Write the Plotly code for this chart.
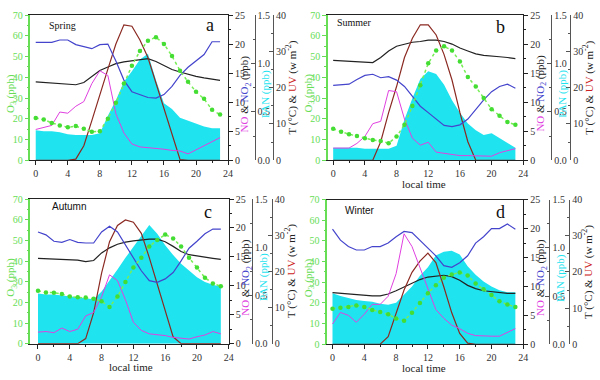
import plotly.graph_objects as go

hours = list(range(24))
seasons = ["Spring", "Summer", "Autumn", "Winter"]
letters = ["a", "b", "c", "d"]

# O3 (ppb)
o3_spring = [20.4, 19.6, 18.0, 16.8, 15.9, 16.5, 15.2, 13.7, 14.0, 20.0, 27.7, 37.0, 45.6, 52.6, 57.6, 59.3, 56.0, 50.2, 43.2, 37.8, 33.0, 29.6, 24.3, 22.0]
o3_summer = [15.2, 13.7, 12.6, 11.7, 10.6, 9.8, 9.3, 8.2, 11.4, 17.1, 26.1, 36.2, 46.7, 52.9, 54.9, 52.9, 47.6, 40.1, 35.5, 30.0, 24.6, 21.5, 18.4, 17.1]
o3_autumn = [25.6, 24.8, 24.7, 24.0, 22.8, 22.5, 22.3, 21.7, 20.5, 17.8, 22.8, 29.8, 36.9, 41.6, 47.0, 50.2, 52.8, 50.9, 47.0, 41.6, 36.9, 31.9, 29.1, 27.8]
o3_winter = [17.2, 17.7, 18.1, 18.8, 18.1, 16.6, 15.6, 14.5, 12.5, 11.4, 15.3, 20.0, 24.7, 28.6, 32.2, 33.8, 34.8, 33.3, 29.4, 26.6, 23.9, 20.8, 19.2, 18.1]

# NO2 (ppb)
no2_spring = [20.3, 20.3, 20.3, 20.7, 20.7, 19.9, 19.6, 19.2, 19.9, 20.0, 17.1, 13.8, 11.8, 11.3, 10.8, 10.7, 11.3, 12.7, 14.6, 16.0, 17.1, 18.2, 20.4, 20.4]
no2_summer = [12.9, 13.0, 13.1, 13.9, 14.6, 14.8, 14.2, 14.4, 13.8, 12.7, 11.0, 9.3, 8.2, 7.1, 6.0, 5.8, 6.1, 7.1, 8.8, 10.4, 11.8, 12.7, 13.1, 12.4]
no2_autumn = [19.3, 18.8, 17.7, 17.5, 18.0, 17.5, 17.4, 17.4, 19.3, 20.3, 19.3, 17.1, 14.9, 12.6, 10.9, 10.6, 11.2, 12.3, 14.3, 16.5, 17.7, 19.0, 19.8, 19.8]
no2_winter = [19.9, 18.0, 16.9, 16.3, 16.3, 16.9, 16.9, 17.5, 18.6, 19.5, 19.3, 18.0, 16.6, 15.3, 13.6, 13.3, 14.1, 15.3, 17.5, 18.6, 20.0, 20.0, 20.8, 19.9]

# NO (ppb)
no_spring = [5.3, 5.6, 6.0, 8.3, 8.1, 9.3, 10.1, 13.2, 15.4, 14.6, 8.0, 4.7, 2.8, 2.3, 2.2, 2.1, 1.9, 1.7, 1.6, 1.1, 1.8, 2.6, 3.2, 3.9]
no_summer = [2.1, 2.1, 2.1, 2.9, 4.1, 6.3, 6.7, 12.0, 11.8, 7.1, 3.8, 2.6, 3.1, 1.4, 1.2, 0.9, 0.8, 0.8, 0.8, 0.7, 0.7, 1.3, 1.6, 2.0]
no_autumn = [2.0, 2.1, 1.9, 2.7, 2.1, 2.5, 4.8, 5.4, 8.1, 11.9, 10.9, 7.6, 3.7, 2.3, 1.7, 1.6, 1.4, 1.1, 0.9, 0.8, 1.2, 1.5, 2.1, 1.7]
no_winter = [3.5, 5.5, 5.0, 3.8, 5.2, 6.9, 6.9, 8.3, 12.2, 19.1, 16.9, 13.3, 9.4, 6.0, 4.5, 3.3, 2.7, 1.9, 1.5, 1.4, 1.4, 1.4, 2.1, 2.7]

# PAN (ppb)
pan_spring = [0.31, 0.30, 0.30, 0.29, 0.27, 0.26, 0.26, 0.26, 0.28, 0.46, 0.62, 0.81, 0.92, 1.04, 1.10, 0.83, 0.59, 0.53, 0.44, 0.41, 0.38, 0.35, 0.33, 0.33]
pan_summer = [0.13, 0.13, 0.13, 0.13, 0.12, 0.12, 0.12, 0.12, 0.15, 0.42, 0.64, 0.84, 0.92, 0.89, 0.78, 0.62, 0.49, 0.38, 0.31, 0.26, 0.28, 0.23, 0.18, 0.13]
pan_autumn = [0.52, 0.51, 0.51, 0.50, 0.49, 0.48, 0.47, 0.46, 0.54, 0.65, 0.77, 0.89, 1.00, 1.11, 1.23, 1.14, 1.02, 0.92, 0.83, 0.76, 0.69, 0.64, 0.61, 0.59]
pan_winter = [0.53, 0.50, 0.48, 0.46, 0.45, 0.44, 0.42, 0.41, 0.43, 0.51, 0.60, 0.71, 0.80, 0.92, 0.96, 0.97, 0.93, 0.81, 0.72, 0.65, 0.60, 0.56, 0.54, 0.54]

# T (degC)
t_spring = [21.6, 21.4, 21.2, 21.0, 20.9, 20.8, 21.4, 23.1, 24.7, 25.7, 26.6, 27.1, 27.4, 27.9, 28.0, 27.2, 26.1, 25.0, 24.3, 23.6, 23.1, 22.7, 22.3, 22.0]
t_summer = [27.5, 27.4, 27.2, 27.0, 26.9, 26.9, 28.3, 30.1, 31.4, 32.0, 32.5, 32.7, 33.1, 33.1, 32.7, 32.0, 30.9, 30.1, 29.3, 28.9, 28.6, 28.5, 28.3, 28.0]
t_autumn = [23.6, 23.5, 23.4, 23.3, 23.2, 23.1, 22.7, 23.0, 25.1, 26.5, 27.5, 28.1, 28.4, 28.7, 28.9, 28.9, 28.2, 26.9, 25.5, 24.6, 24.2, 23.9, 23.6, 23.3]
t_winter = [14.3, 14.1, 13.9, 13.8, 13.6, 13.4, 13.4, 13.9, 14.8, 15.9, 17.0, 17.9, 18.6, 18.9, 19.1, 18.7, 17.7, 16.3, 15.4, 14.8, 14.5, 14.3, 14.1, 14.1]

# UV (W m-2)
uv_spring = [0, 0, 0, 0, 0, 0.3, 4.0, 10.9, 17.7, 25.1, 32.0, 37.3, 36.9, 33.1, 28.3, 21.3, 14.1, 7.0, 0.2, 0, 0, 0, 0, 0]
uv_summer = [0, 0, 0, 0, 0, 0, 5.1, 13.1, 20.3, 28.3, 33.6, 37.3, 37.3, 34.5, 29.1, 22.1, 13.1, 5.1, 0, 0, 0, 0, 0, 0]
uv_autumn = [0, 0, 0, 0, 0, 0, 1.4, 8.6, 19.5, 28.2, 32.7, 34.2, 33.6, 30.5, 23.8, 16.6, 9.0, 1.9, 0, 0, 0, 0, 0, 0]
uv_winter = [0, 0, 0, 0, 0, 0, 0, 2.1, 8.3, 15.0, 19.9, 23.0, 25.2, 22.6, 15.9, 8.7, 3.0, 0.3, 0, 0, 0, 0, 0, 0]

o3_all = [o3_spring, o3_summer, o3_autumn, o3_winter]
no2_all = [no2_spring, no2_summer, no2_autumn, no2_winter]
no_all = [no_spring, no_summer, no_autumn, no_winter]
pan_all = [pan_spring, pan_summer, pan_autumn, pan_winter]
t_all = [t_spring, t_summer, t_autumn, t_winter]
uv_all = [uv_spring, uv_summer, uv_autumn, uv_winter]

# panel geometry in pixels: left, right, top, bottom, PAN axis x, T axis x, x-range start
geom = [
    dict(l=30.7, r=230.0, t=9.3, b=159.3, pan=256.7, tx=275.3, x0=-0.66),
    dict(l=330.7, r=527.7, t=9.3, b=159.3, pan=556.0, tx=575.0, x0=-0.66),
    dict(l=30.7, r=230.7, t=199.3, b=348.7, pan=254.0, tx=274.0, x0=-0.95),
    dict(l=330.0, r=527.7, t=200.0, b=349.3, pan=554.0, tx=574.0, x0=-0.66),
]

W, H = 600, 380
SERIF = "Liberation Serif"
SANS = "Liberation Sans"
GREEN = "#66dd55"
CYAN = "#1fe3ef"
BLUE = "#4444cc"
MAGENTA = "#e040e0"
BROWN = "#8b2a22"
DARK = "#222222"
GREY = "#555555"

def fx(px):
    return px / W

def fy(py):
    return 1 - py / H

def aid(n):
    return "y" if n == 1 else f"y{n}"

def aname(n):
    return "yaxis" if n == 1 else f"yaxis{n}"

fig = go.Figure()
layout = dict(width=W, height=H, margin=dict(l=0, r=0, t=0, b=0),
              paper_bgcolor="white", plot_bgcolor="white", showlegend=False)
annotations = []

for i in range(4):
    g = geom[i]
    xid = "x" if i == 0 else f"x{i+1}"
    xname = "xaxis" if i == 0 else f"xaxis{i+1}"
    n_pan, n_t, n_no, n_o3 = 4 * i + 1, 4 * i + 2, 4 * i + 3, 4 * i + 4
    dom_y = [fy(g["b"]), fy(g["t"])]

    fig.add_trace(go.Scatter(x=hours, y=pan_all[i], mode="lines", fill="tozeroy",
                             fillcolor=CYAN, line=dict(width=0, color=CYAN),
                             xaxis=xid, yaxis=aid(n_pan)))
    fig.add_trace(go.Scatter(x=hours, y=t_all[i], mode="lines",
                             line=dict(width=1.2, color=DARK),
                             xaxis=xid, yaxis=aid(n_t)))
    fig.add_trace(go.Scatter(x=hours, y=uv_all[i], mode="lines",
                             line=dict(width=1.2, color=BROWN),
                             xaxis=xid, yaxis=aid(n_t)))
    fig.add_trace(go.Scatter(x=hours, y=no2_all[i], mode="lines",
                             line=dict(width=1.2, color=BLUE),
                             xaxis=xid, yaxis=aid(n_no)))
    fig.add_trace(go.Scatter(x=hours, y=no_all[i], mode="lines",
                             line=dict(width=1.0, color=MAGENTA),
                             xaxis=xid, yaxis=aid(n_no)))
    fig.add_trace(go.Scatter(x=hours, y=o3_all[i], mode="lines+markers",
                             line=dict(width=1.5, color="#77ee55", dash="dot"),
                             marker=dict(size=4.5, color="#44dd33", line=dict(width=0)),
                             xaxis=xid, yaxis=aid(n_o3)))

    tickfont = dict(family=SERIF, size=10, color="#333333")
    layout[xname] = dict(domain=[fx(g["l"]), fx(g["r"])], anchor=aid(n_pan),
                         range=[g["x0"], 24], tick0=0, dtick=4, ticks="outside",
                         ticklen=4, tickcolor=DARK, showline=True, linecolor=DARK,
                         linewidth=1, mirror=True, showgrid=False, zeroline=False,
                         tickfont=tickfont,
                         minor=dict(dtick=2, tick0=0, ticks="outside", ticklen=2, tickcolor=DARK))
    layout[aname(n_pan)] = dict(domain=dom_y, anchor="free", position=fx(g["pan"]),
                                side="right", range=[0, 1.5], tick0=0, dtick=0.5,
                                tickformat=".1f", ticks="inside", ticklen=4, tickcolor=GREY,
                                showline=True, linecolor=GREY, linewidth=1,
                                showgrid=False, zeroline=False, tickfont=tickfont,
                                minor=dict(dtick=0.25, ticks="inside", ticklen=2, tickcolor=GREY))
    layout[aname(n_t)] = dict(overlaying=aid(n_pan), anchor="free", position=fx(g["tx"]),
                              side="right", range=[0, 40], tick0=0, dtick=10,
                              ticks="inside", ticklen=4, tickcolor=GREY,
                              showline=True, linecolor=GREY, linewidth=1,
                              showgrid=False, zeroline=False, tickfont=tickfont,
                              minor=dict(dtick=5, ticks="inside", ticklen=2, tickcolor=GREY))
    layout[aname(n_no)] = dict(overlaying=aid(n_pan), anchor=xid, side="right",
                               range=[0, 25], tick0=0, dtick=5, ticks="outside",
                               ticklen=4, tickcolor=DARK, showline=True, linecolor=DARK,
                               linewidth=1, showgrid=False, zeroline=False,
                               tickfont=tickfont,
                               minor=dict(dtick=2.5, ticks="outside", ticklen=2, tickcolor=DARK))
    layout[aname(n_o3)] = dict(overlaying=aid(n_pan), anchor=xid, side="left",
                               range=[0, 70], tick0=0, dtick=10, ticks="outside",
                               ticklen=4, tickcolor=GREEN, showline=True, linecolor=GREEN,
                               linewidth=1.5, showgrid=False, zeroline=False,
                               tickfont=dict(family=SERIF, size=10, color=GREEN),
                               minor=dict(dtick=5, ticks="outside", ticklen=2, tickcolor=GREEN))

    yc = fy((g["t"] + g["b"]) / 2 + 6)
    # axis titles
    annotations.append(dict(x=fx(g["l"] - 19), y=yc, xref="paper", yref="paper",
                            text="O<sub>3</sub> (ppb)", textangle=-90, showarrow=False,
                            font=dict(family=SERIF, size=11, color=GREEN),
                            xanchor="center", yanchor="middle"))
    annotations.append(dict(x=fx(g["r"] + 18), y=yc, xref="paper", yref="paper",
                            text=f"<span style='color:{MAGENTA}'>NO</span> & "
                                 f"<span style='color:{BLUE}'>NO<sub>2</sub></span> (ppb)",
                            textangle=-90, showarrow=False,
                            font=dict(family=SERIF, size=11, color=DARK),
                            xanchor="center", yanchor="middle"))
    annotations.append(dict(x=fx(g["pan"] + 11), y=yc, xref="paper", yref="paper",
                            text="PAN (ppb)", textangle=-90, showarrow=False,
                            font=dict(family=SERIF, size=11, color=CYAN),
                            xanchor="center", yanchor="middle"))
    annotations.append(dict(x=fx(g["tx"] + 19), y=fy((g["t"] + g["b"]) / 2), xref="paper", yref="paper",
                            text=f"T (°C) & <span style='color:#cc2222'>UV</span> (w m<sup>-2</sup>)",
                            textangle=-90, showarrow=False,
                            font=dict(family=SERIF, size=11, color=DARK),
                            xanchor="center", yanchor="middle"))

# season labels and panel letters
season_pos = [(63, 20, SERIF), (357, 17, SERIF), (70, 207, SANS), (363, 211, SANS)]
letter_pos = [(212, 20), (505, 22), (210, 213), (505, 213)]
for i in range(4):
    sx, sy, fam = season_pos[i]
    annotations.append(dict(x=fx(sx), y=fy(sy), xref="paper", yref="paper",
                            text=seasons[i], showarrow=False,
                            font=dict(family=fam, size=10, color="#111111"),
                            xanchor="center", yanchor="middle"))
    lx, ly = letter_pos[i]
    annotations.append(dict(x=fx(lx), y=fy(ly), xref="paper", yref="paper",
                            text=letters[i], showarrow=False,
                            font=dict(family=SERIF, size=18, color="#111111"),
                            xanchor="center", yanchor="middle"))

for (lx, ly) in [(428, 183.5), (132, 372.5), (428, 373.5)]:
    annotations.append(dict(x=fx(lx), y=fy(ly), xref="paper", yref="paper",
                            text="local time", showarrow=False,
                            font=dict(family=SERIF, size=11, color="#222222"),
                            xanchor="center", yanchor="middle"))

layout["annotations"] = annotations
fig.update_layout(**layout)
fig.write_html("out.html", config={"displayModeBar": False},
               post_script="document.body.style.margin='0';document.body.style.overflow='hidden';")
